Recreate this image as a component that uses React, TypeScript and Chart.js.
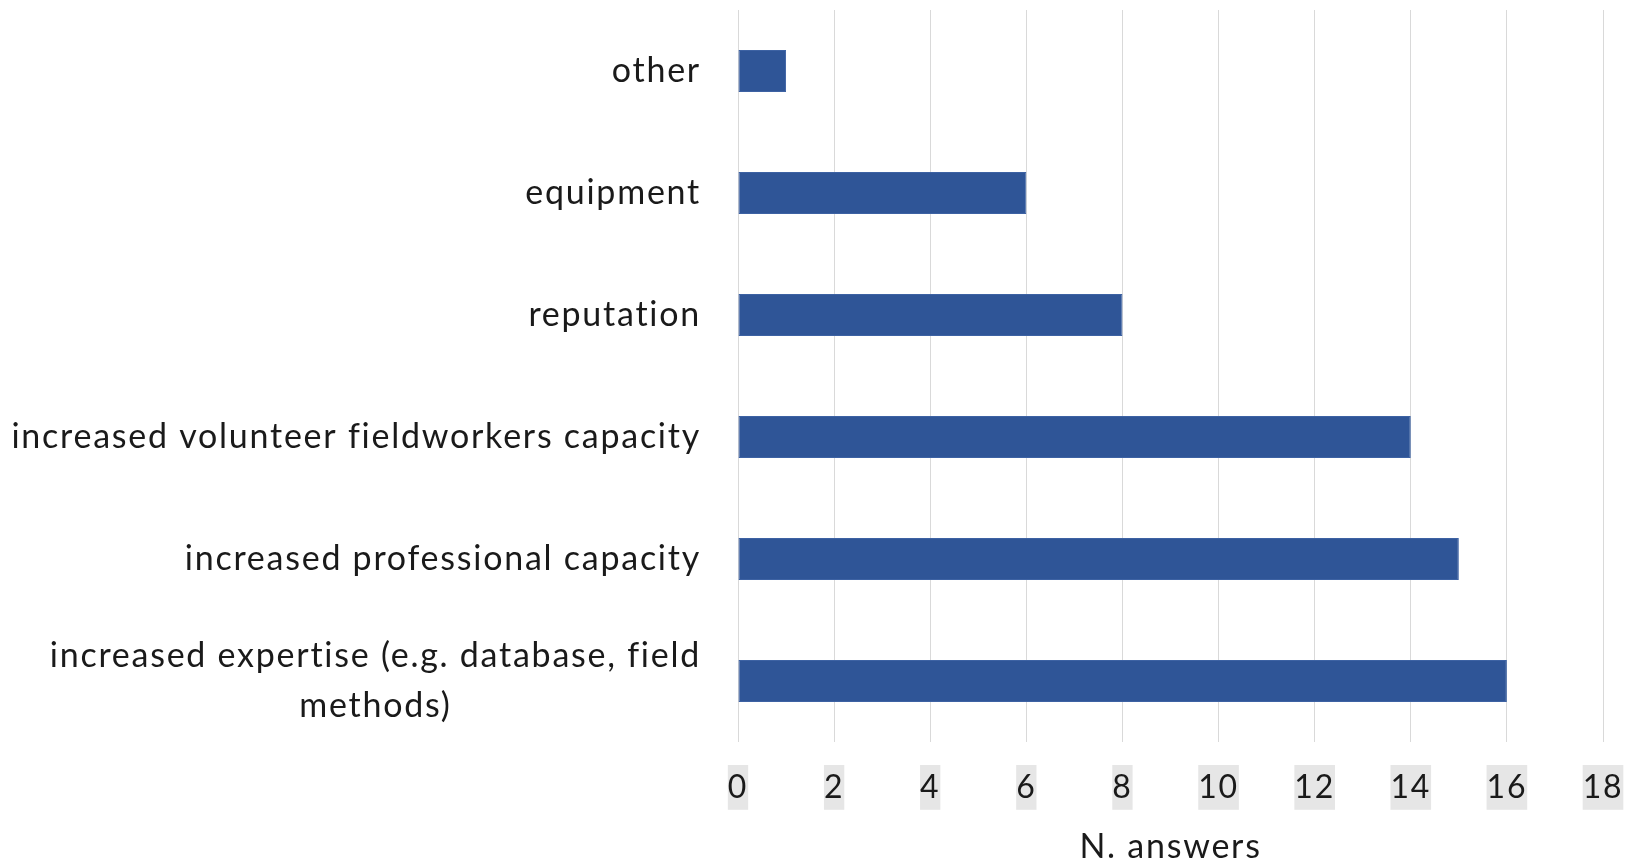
import { useEffect, useRef } from "react";
import { Chart, registerables } from "chart.js";

Chart.register(...registerables);

const categories: (string | string[])[] = [
  "other",
  "equipment",
  "reputation",
  "increased volunteer fieldworkers capacity",
  "increased professional capacity",
  ["increased expertise (e.g. database, field", "methods)"],
];
const answers = [1, 6, 8, 14, 15, 16];
const axisMin = 0;
const axisMax = 18;
const axisStep = 2;
const axisTitle = "N. answers";

const FONT = "Lato";
const TEXT = "#1a1a1a";
const SPACING = "1.75px";

const spacingPlugin = {
  id: "spacing",
  beforeUpdate(chart: any) {
    chart.ctx.letterSpacing = SPACING;
  },
  beforeDraw(chart: any) {
    chart.ctx.letterSpacing = SPACING;
  },
};

const yLabelPlugin = {
  id: "yLabels",
  afterDraw(chart: any) {
    const y = chart.scales.y;
    const ctx = chart.ctx;
    const rightX = chart.chartArea.left - 37;
    ctx.save();
    ctx.letterSpacing = SPACING;
    ctx.font = `34px ${FONT}`;
    ctx.fillStyle = TEXT;
    ctx.textBaseline = "middle";
    ctx.textAlign = "center";
    const lh = 50;
    categories.forEach((lab, i) => {
      const lines = Array.isArray(lab) ? lab : [lab];
      const w = Math.max(...lines.map((l) => ctx.measureText(l).width));
      const cy = y.getPixelForTick(i);
      lines.forEach((l, j) => {
        ctx.fillText(l, rightX - w / 2, cy + (j - (lines.length - 1) / 2) * lh);
      });
    });
    ctx.restore();
  },
};

export default function App() {
  const ref = useRef<HTMLCanvasElement>(null);
  useEffect(() => {
    document.body.style.margin = "0";
    const chart = new Chart(ref.current!, {
      type: "bar",
      data: {
        labels: categories,
        datasets: [
          {
            data: answers,
            backgroundColor: "#2F5597",
            borderColor: "#3d62a3",
            borderWidth: 1,
            borderSkipped: false,
            categoryPercentage: 1,
            barPercentage: 0.344,
          },
        ],
      },
      options: {
        indexAxis: "y",
        animation: false,
        responsive: false,
        layout: { padding: { top: 10, right: 33, left: 0, bottom: 0 } },
        plugins: { legend: { display: false }, tooltip: { enabled: false } },
        scales: {
          x: {
            min: axisMin,
            max: axisMax,
            border: { display: false },
            grid: { color: "#d9d9d9", lineWidth: 1, drawTicks: false },
            ticks: {
              stepSize: axisStep,
              padding: 23,
              color: TEXT,
              font: { family: FONT, size: 32, lineHeight: 1.4 },
              showLabelBackdrop: true,
              backdropColor: "#e6e6e6",
              backdropPadding: 0,
              maxRotation: 0,
            },
            title: {
              display: true,
              text: axisTitle,
              color: TEXT,
              font: { family: FONT, size: 34, lineHeight: 1.05 },
              padding: { top: 0, bottom: 0 },
            },
            afterFit(scale: any) {
              scale.height = 123;
              scale.paddingLeft = 0;
              scale.paddingRight = 0;
            },
          },
          y: {
            border: { display: false },
            grid: { display: false },
            ticks: { display: false },
            afterFit(scale: any) {
              scale.width = 738;
              scale.paddingTop = 0;
              scale.paddingBottom = 0;
            },
          },
        },
      },
      plugins: [spacingPlugin, yLabelPlugin],
    });
    return () => chart.destroy();
  }, []);
  return (
    <div style={{ width: 1636, height: 865 }}>
      <canvas ref={ref} width={1636} height={865} style={{ display: "block" }} />
    </div>
  );
}
